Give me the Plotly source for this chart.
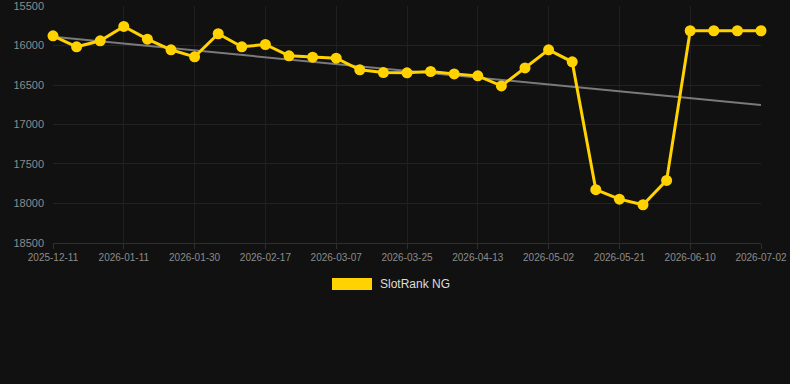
import plotly.graph_objects as go

dates = ["2025-12-11", "2025-12-21", "2026-01-01", "2026-01-11", "2026-01-17", "2026-01-24",
         "2026-01-30", "2026-02-05", "2026-02-11", "2026-02-17", "2026-02-23", "2026-03-01",
         "2026-03-07", "2026-03-13", "2026-03-19", "2026-03-25", "2026-03-31", "2026-04-06",
         "2026-04-13", "2026-04-19", "2026-04-25", "2026-05-02", "2026-05-08", "2026-05-14",
         "2026-05-21", "2026-05-27", "2026-06-03", "2026-06-10", "2026-06-17", "2026-06-24",
         "2026-07-02"]
rank = [15877, 16016, 15940, 15758, 15919, 16054, 16143, 15851, 16016, 15987, 16130, 16147,
        16160, 16308, 16342, 16346, 16329, 16359, 16384, 16511, 16283, 16054, 16207, 17826,
        17945, 18016, 17708, 15813, 15813, 15813, 15813]
tick_labels = dates[::3]
trend_x = [dates[0], dates[-1]]
trend_y = [15890, 16752]
y_ticks = [15500, 16000, 16500, 17000, 17500, 18000, 18500]

BG = "#111111"
YELLOW = "#FFD200"

fig = go.Figure()
fig.add_trace(go.Scatter(x=trend_x, y=trend_y, mode="lines",
                         line=dict(color="#7a7a7a", width=2), showlegend=False,
                         hoverinfo="skip", cliponaxis=False))
fig.add_trace(go.Scatter(x=dates, y=rank, mode="lines+markers", name="SlotRank NG",
                         line=dict(color=YELLOW, width=3),
                         marker=dict(color=YELLOW, size=11),
                         showlegend=False, cliponaxis=False))

fig.update_layout(
    width=790, height=384,
    margin=dict(l=53, r=29, t=6, b=141, autoexpand=False),
    paper_bgcolor=BG, plot_bgcolor=BG,
    font=dict(family="Arial, Liberation Sans, sans-serif", color="#999999"),
    xaxis=dict(type="category", categoryorder="array", categoryarray=dates,
               range=[0, len(dates) - 1], automargin=False,
               tickmode="array", tickvals=tick_labels, ticktext=tick_labels,
               showgrid=True, gridcolor="#1f1f1f", gridwidth=1,
               showline=True, linecolor="#2e2e2e", linewidth=1,
               ticks="outside", ticklen=5, tickcolor="#2e2e2e",
               tickfont=dict(size=10, color="#8c8c8c"), zeroline=False,
               ticklabeloverflow="allow"),
    yaxis=dict(range=[18500.5, 15499.5], tickmode="array", tickvals=y_ticks,
               ticktext=[str(v) for v in y_ticks], automargin=False,
               showgrid=True, gridcolor="#222222", gridwidth=1,
               tickfont=dict(size=11, color="#8c8c8c"), zeroline=False,
               ticklabelstandoff=8, ticklabeloverflow="allow"),
    shapes=[dict(type="rect", xref="paper", yref="paper",
                 x0=(332 - 53) / 708, x1=(372 - 53) / 708,
                 y0=(243 - 290) / 237, y1=(243 - 278) / 237,
                 fillcolor=YELLOW, line=dict(width=0))],
    annotations=[dict(text="SlotRank NG", xref="paper", yref="paper",
                      x=(378 - 53) / 708, y=(243 - 284) / 237,
                      xanchor="left", yanchor="middle", showarrow=False,
                      font=dict(size=12, color="#dddddd"))],
)

fig.write_html("out.html")
